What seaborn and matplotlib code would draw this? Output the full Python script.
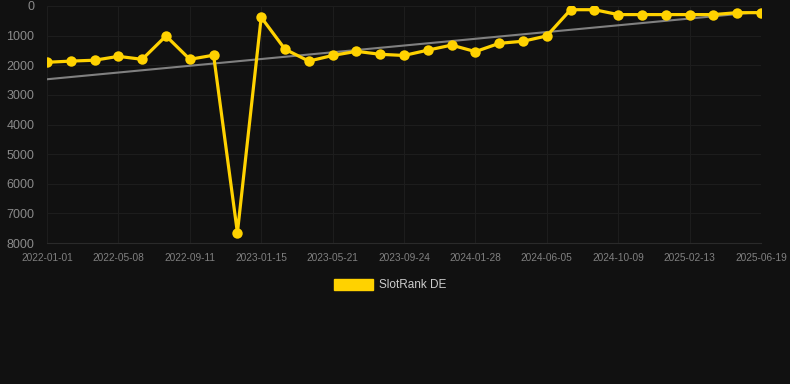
import numpy as np
import pandas as pd
import seaborn as sns
import matplotlib.pyplot as plt
import matplotlib as mpl
from matplotlib.patches import Patch

ranks = [1900, 1860, 1830, 1700, 1800, 1010, 1800, 1660, 7650, 380,
         1460, 1860, 1670, 1530, 1630, 1670, 1490, 1320, 1540, 1260,
         1190, 1010, 125, 125, 290, 290, 290, 290, 290, 225, 225]
# every third observation carries a date label
tick_labels = ["2022-01-01", "2022-05-08", "2022-09-11", "2023-01-15",
               "2023-05-21", "2023-09-24", "2024-01-28", "2024-06-05",
               "2024-10-09", "2025-02-13", "2025-06-19"]
series_name = "SlotRank DE"

BG = "#111111"
GOLD = "#FFD200"

sns.set_theme(style="dark")
mpl.rcParams["font.family"] = ["Liberation Sans", "DejaVu Sans"]
mpl.rcParams["figure.facecolor"] = BG
mpl.rcParams["axes.facecolor"] = BG

df = pd.DataFrame({"idx": np.arange(len(ranks)), "rank": ranks})

# linear trend over all points
coef = np.polyfit(df["idx"], df["rank"], 1)
df["trend"] = np.polyval(coef, df["idx"])

fig = plt.figure(figsize=(7.9, 3.84), dpi=100)
ax = fig.add_axes([47 / 790, (384 - 243) / 384, (761 - 47) / 790, (243 - 6) / 384])

sns.lineplot(data=df, x="idx", y="trend", ax=ax, color="#808080", linewidth=1.5, zorder=2)
sns.lineplot(data=df, x="idx", y="rank", ax=ax, color=GOLD, linewidth=2.3,
             marker="o", markersize=7.5, markeredgewidth=0, zorder=3)

ax.set_xlim(0, len(ranks) - 1)
ax.set_ylim(8000, 0)
ax.set_yticks(np.arange(0, 8001, 1000))
ax.set_xticks(np.arange(0, len(ranks), 3))
ax.set_xticklabels(tick_labels)
ax.set_xlabel("")
ax.set_ylabel("")

ax.grid(True, color="#1d1d1d", linewidth=0.8)
for s in ax.spines.values():
    s.set_visible(False)
ax.spines["bottom"].set_visible(True)
ax.spines["bottom"].set_color("#2a2a2a")
ax.spines["bottom"].set_linewidth(0.8)
ax.tick_params(axis="y", labelsize=9, labelcolor="#8a8a8a", length=0, pad=9)
ax.tick_params(axis="x", labelsize=7.3, labelcolor="#808080", length=0, pad=7)

handle = Patch(facecolor=GOLD, edgecolor=GOLD)
leg = fig.legend([handle], [series_name], loc="center", bbox_to_anchor=(390 / 790, 1 - 285 / 384),
                 frameon=False, fontsize=8.5, handlelength=3.3, handleheight=1.1,
                 handletextpad=0.5, labelcolor="#cccccc")

fig.savefig("out.png", dpi=100, facecolor=BG)
